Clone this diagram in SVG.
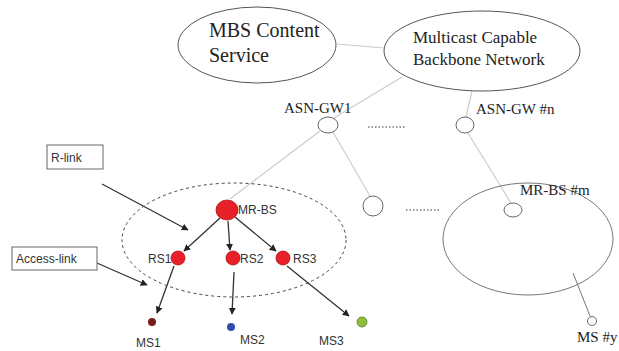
<svg xmlns="http://www.w3.org/2000/svg" width="619" height="351" viewBox="0 0 619 351">
  <defs>
    <marker id="arrow" viewBox="0 0 10 10" refX="9" refY="5" markerWidth="7" markerHeight="7" orient="auto" markerUnits="userSpaceOnUse">
      <path d="M0,0 L10,5 L0,10 z" fill="#222"/>
    </marker>
  </defs>
  <style>
    .serif { font-family: "Liberation Serif", "Times New Roman", serif; fill: #222; }
    .sans { font-family: "Liberation Sans", Arial, sans-serif; fill: #333; font-size: 12px; }
    .cloud { fill: #fff; stroke: #555; stroke-width: 1; }
    .node { fill: #fff; stroke: #666; stroke-width: 1; }
    .wire { stroke: #ccc; stroke-width: 1.2; fill: none; }
    .arrow { stroke: #333; stroke-width: 1.3; fill: none; marker-end: url(#arrow); }
    .red { fill: #e8202a; stroke: #b01010; stroke-width: 0.8; }
    .dots { stroke: #333; stroke-width: 1; stroke-dasharray: 1.5 2; }
    .label-box { fill: #fff; stroke: #666; stroke-width: 1; }
  </style>
  <rect width="619" height="351" fill="#fff"/>

  <!-- backbone and gateway links -->
  <g id="connectors">
    <line class="wire" x1="337" y1="44" x2="384" y2="48"/>
    <line class="wire" x1="402" y1="77" x2="334" y2="118"/>
    <line class="wire" x1="472" y1="91" x2="466" y2="117"/>
    <line class="wire" x1="320" y1="131" x2="230" y2="199"/>
    <line class="wire" x1="333" y1="132" x2="370" y2="196"/>
    <line class="wire" x1="468" y1="133" x2="511" y2="203"/>
    <line x1="573" y1="273" x2="590" y2="316" stroke="#777" stroke-width="1"/>
    <!-- R-link / Access-link pointers -->
    <line class="arrow" x1="102" y1="184" x2="188" y2="230"/>
    <line class="arrow" x1="97" y1="263" x2="147" y2="285"/>
    <!-- relay links -->
    <line class="arrow" x1="220" y1="218" x2="184" y2="251"/>
    <line class="arrow" x1="228" y1="221" x2="230" y2="250"/>
    <line class="arrow" x1="235" y1="217" x2="276" y2="251"/>
    <!-- access links -->
    <line class="arrow" x1="174" y1="266" x2="157" y2="313"/>
    <line class="arrow" x1="234" y1="272" x2="232" y2="314"/>
    <line class="arrow" x1="287" y1="266" x2="349" y2="316"/>
  </g>

  <g id="mbs-content">
    <ellipse class="cloud" cx="257" cy="45" rx="79" ry="38"/>
    <text class="serif" font-size="20" x="209" y="37">MBS Content</text>
    <text class="serif" font-size="20" x="209" y="62">Service</text>
  </g>

  <g id="backbone">
    <ellipse class="cloud" cx="482" cy="51" rx="98" ry="40"/>
    <text class="serif" font-size="17" x="413" y="43">Multicast Capable</text>
    <text class="serif" font-size="17" x="413" y="65">Backbone Network</text>
  </g>

  <g id="asn-gw1">
    <ellipse class="node" cx="328" cy="125" rx="10" ry="8"/>
    <text class="serif" font-size="15" x="284" y="113">ASN-GW1</text>
  </g>

  <g id="asn-gwn">
    <ellipse class="node" cx="465" cy="125" rx="9" ry="8"/>
    <text class="serif" font-size="15" x="476" y="114">ASN-GW #n</text>
  </g>

  <line id="gw-dots" class="dots" x1="368" y1="127" x2="405" y2="127"/>

  <g id="bs-mid">
    <ellipse class="node" cx="373" cy="206" rx="10" ry="10"/>
  </g>

  <line id="bs-dots" class="dots" x1="406" y1="210" x2="439" y2="210"/>

  <g id="cell-m">
    <ellipse cx="528" cy="239" rx="85" ry="56" fill="none" stroke="#777" stroke-width="1"/>
    <ellipse class="node" cx="513" cy="210" rx="9" ry="7"/>
    <text class="serif" font-size="15" x="520" y="195">MR-BS #m</text>
  </g>

  <g id="ms-y">
    <circle class="node" cx="592" cy="321" r="4.5"/>
    <text class="serif" font-size="15" x="577" y="342">MS #y</text>
  </g>

  <g id="cell-1">
    <ellipse cx="234" cy="240" rx="112" ry="57" fill="none" stroke="#444" stroke-width="1" stroke-dasharray="3 3"/>
  </g>

  <g id="mr-bs">
    <ellipse class="red" cx="227" cy="210" rx="11" ry="10"/>
    <text class="sans" x="238" y="214">MR-BS</text>
  </g>

  <g id="rs1">
    <ellipse class="red" cx="178" cy="258" rx="7" ry="7"/>
    <text class="sans" x="148" y="263">RS1</text>
  </g>

  <g id="rs2">
    <ellipse class="red" cx="233" cy="258" rx="7" ry="7"/>
    <text class="sans" x="240" y="263">RS2</text>
  </g>

  <g id="rs3">
    <ellipse class="red" cx="283" cy="258" rx="7" ry="7"/>
    <text class="sans" x="293" y="263">RS3</text>
  </g>

  <g id="ms1">
    <circle cx="152" cy="322" r="4" fill="#7a1c1c"/>
    <text class="sans" x="136" y="347">MS1</text>
  </g>

  <g id="ms2">
    <circle cx="231" cy="327" r="4" fill="#2e4fa8"/>
    <text class="sans" x="240" y="344">MS2</text>
  </g>

  <g id="ms3">
    <circle cx="362" cy="322" r="5" fill="#8dc03c" stroke="#5a7a20" stroke-width="0.8"/>
    <text class="sans" x="319" y="345">MS3</text>
  </g>

  <g id="r-link">
    <rect class="label-box" x="47" y="145" width="56" height="24"/>
    <text class="sans" x="51" y="162">R-link</text>
  </g>

  <g id="access-link">
    <rect class="label-box" x="12" y="247" width="85" height="23"/>
    <text class="sans" x="16" y="263">Access-link</text>
  </g>
</svg>
